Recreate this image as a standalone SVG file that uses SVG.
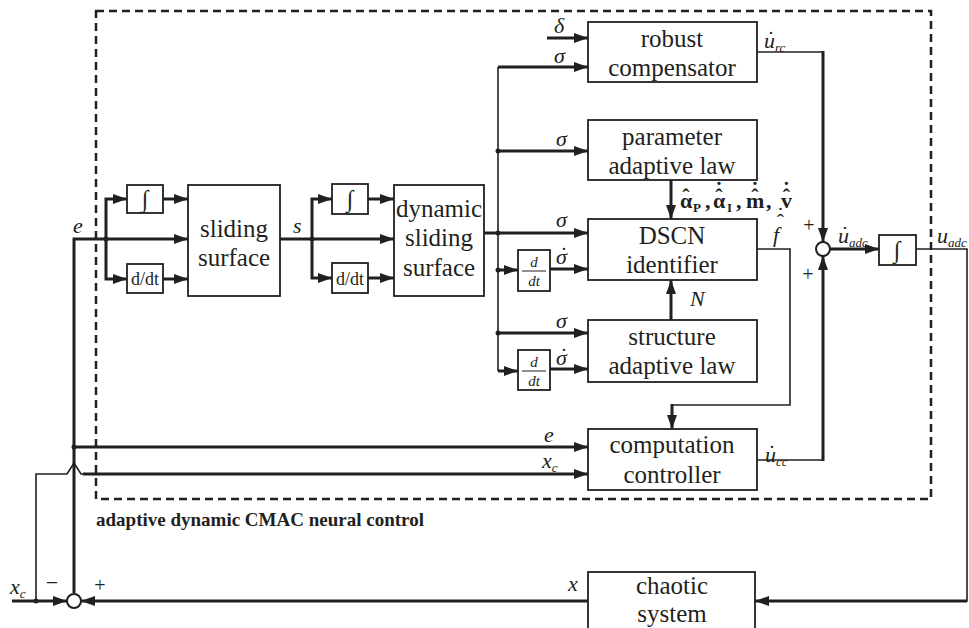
<svg xmlns="http://www.w3.org/2000/svg" width="969" height="628" viewBox="0 0 969 628" font-family="Liberation Serif, Times New Roman, serif">
<style>
text{font-family:"Liberation Serif","Times New Roman",serif;fill:#231f20}
.box{fill:#fff;stroke:#231f20;stroke-width:1.8}
.thk{fill:none;stroke:#231f20;stroke-width:3}
.thn{fill:none;stroke:#231f20;stroke-width:1.6}
.t{font-size:25px;text-anchor:middle}
.lb{font-size:22px;font-style:italic}
.up{font-style:normal}
.sub{font-size:13px}
.op{font-size:20px;text-anchor:middle}
.bd{font-size:22px;font-weight:bold}
.pm{font-size:20px;text-anchor:middle}
.dot{fill:#231f20}
</style>
<defs>
<marker id="a" markerWidth="14" markerHeight="10" refX="14" refY="5" orient="auto" markerUnits="userSpaceOnUse">
<path d="M0,0 L14,5 L0,10 z" fill="#231f20"/>
</marker>
</defs>
<rect width="969" height="628" fill="#fff"/>

<rect x="96" y="11" width="835" height="488" fill="none" stroke="#231f20" stroke-width="2.5" stroke-dasharray="8,5"/>
<text x="96" y="526" style="font-size:19px;font-weight:bold">adaptive dynamic CMAC neural control</text>

<g id="connectors">
<polyline class="thk" points="74,593 74,239 188,239" marker-end="url(#a)"/>
<polyline class="thk" points="106,239 106,199 127,199" marker-end="url(#a)"/>
<polyline class="thk" points="106,239 106,279 127,279" marker-end="url(#a)"/>
<line class="thk" x1="163" y1="199" x2="188" y2="199" marker-end="url(#a)"/>
<line class="thk" x1="163" y1="279" x2="188" y2="279" marker-end="url(#a)"/>
<line class="thk" x1="280" y1="239" x2="394" y2="239" marker-end="url(#a)"/>
<polyline class="thk" points="312,239 312,199 332,199" marker-end="url(#a)"/>
<polyline class="thk" points="312,239 312,278 332,278" marker-end="url(#a)"/>
<line class="thk" x1="368" y1="199" x2="394" y2="199" marker-end="url(#a)"/>
<line class="thk" x1="368" y1="278" x2="394" y2="278" marker-end="url(#a)"/>
<line class="thk" x1="484" y1="233" x2="588" y2="233" marker-end="url(#a)"/>
<polyline class="thn" points="498,67 498,371"/>
<line class="thk" x1="498" y1="67" x2="588" y2="67" marker-end="url(#a)"/>
<line class="thk" x1="547" y1="38" x2="588" y2="38" marker-end="url(#a)"/>
<line class="thk" x1="498" y1="151" x2="588" y2="151" marker-end="url(#a)"/>
<line class="thk" x1="498" y1="270" x2="518" y2="270" marker-end="url(#a)"/>
<line class="thk" x1="550" y1="269" x2="588" y2="269" marker-end="url(#a)"/>
<line class="thk" x1="498" y1="333" x2="588" y2="333" marker-end="url(#a)"/>
<line class="thk" x1="498" y1="371" x2="518" y2="371" marker-end="url(#a)"/>
<line class="thk" x1="550" y1="369" x2="588" y2="369" marker-end="url(#a)"/>
<line class="thk" x1="671" y1="180" x2="671" y2="219" marker-end="url(#a)"/>
<line class="thk" x1="671" y1="320" x2="671" y2="280" marker-end="url(#a)"/>
<polyline class="thn" points="757,249 790,249 790,405 672,405"/>
<line class="thk" x1="672" y1="404" x2="672" y2="429" marker-end="url(#a)"/>
<polyline class="thn" points="757,52 823,52"/>
<line class="thk" x1="823" y1="51" x2="823" y2="242" marker-end="url(#a)"/>
<polyline class="thn" points="757,460 824,460"/>
<line class="thk" x1="823" y1="461" x2="823" y2="256" marker-end="url(#a)"/>
<line class="thk" x1="830" y1="249" x2="879" y2="249" marker-end="url(#a)"/>
<polyline class="thn" points="916,249 967,249 967,601 900,601"/>
<line class="thk" x1="967" y1="601" x2="755" y2="601" marker-end="url(#a)"/>
<line class="thk" x1="588" y1="601" x2="81" y2="601" marker-end="url(#a)"/>
<line class="thk" x1="12" y1="601" x2="67" y2="601" marker-end="url(#a)"/>
<polyline class="thn" points="36,601 36,474 67,474 74,463 81,474 84,474"/>
<line class="thk" x1="83" y1="474" x2="588" y2="474" marker-end="url(#a)"/>
<line class="thk" x1="74" y1="447" x2="588" y2="447" marker-end="url(#a)"/>
<circle class="dot" cx="106" cy="239" r="2.5"/>
<circle class="dot" cx="312" cy="239" r="2.5"/>
<circle class="dot" cx="498" cy="233" r="2.5"/>
<circle class="dot" cx="498" cy="151" r="2.5"/>
<circle class="dot" cx="498" cy="270" r="2.5"/>
<circle class="dot" cx="498" cy="333" r="2.5"/>
<circle class="dot" cx="74" cy="447" r="2.5"/>
<circle class="dot" cx="36" cy="601" r="2.5"/>
</g>

<g id="int1"><rect class="box" x="127" y="185" width="36" height="28"/><text class="op" x="145" y="207" style="font-size:24px">∫</text></g>
<g id="ddt1"><rect class="box" x="127" y="264" width="36" height="29"/><text class="op" x="145" y="285" style="font-size:18px">d/dt</text></g>
<g id="sliding"><rect class="box" x="188" y="185" width="92" height="111"/><text class="t" x="234" y="237">sliding</text><text class="t" x="234" y="266">surface</text></g>
<g id="int2"><rect class="box" x="332" y="184" width="36" height="30"/><text class="op" x="350" y="207" style="font-size:24px">∫</text></g>
<g id="ddt2"><rect class="box" x="332" y="263" width="36" height="30"/><text class="op" x="350" y="285" style="font-size:18px">d/dt</text></g>
<g id="dynamic"><rect class="box" x="394" y="185" width="90" height="111"/><text class="t" x="439" y="217">dynamic</text><text class="t" x="439" y="246">sliding</text><text class="t" x="439" y="276">surface</text></g>
<g id="robust"><rect class="box" x="588" y="22" width="169" height="60"/><text class="t" x="672" y="47">robust</text><text class="t" x="672" y="76">compensator</text></g>
<g id="param"><rect class="box" x="588" y="120" width="169" height="60"/><text class="t" x="672" y="145">parameter</text><text class="t" x="672" y="174">adaptive law</text></g>
<g id="dscn"><rect class="box" x="588" y="219" width="169" height="61"/><text class="t" x="672" y="244">DSCN</text><text class="t" x="672" y="273">identifier</text></g>
<g id="ddt3"><rect class="box" x="518" y="250" width="32" height="41"/><text class="lb" x="534" y="267" style="font-size:15px;text-anchor:middle">d</text><line x1="522" y1="271" x2="546" y2="271" stroke="#231f20" stroke-width="1"/><text class="lb" x="534" y="286" style="font-size:15px;text-anchor:middle">dt</text></g>
<g id="structure"><rect class="box" x="588" y="320" width="169" height="62"/><text class="t" x="672" y="345">structure</text><text class="t" x="672" y="374">adaptive law</text></g>
<g id="ddt4"><rect class="box" x="518" y="350" width="32" height="40"/><text class="lb" x="534" y="367" style="font-size:15px;text-anchor:middle">d</text><line x1="522" y1="371" x2="546" y2="371" stroke="#231f20" stroke-width="1"/><text class="lb" x="534" y="386" style="font-size:15px;text-anchor:middle">dt</text></g>
<g id="computation"><rect class="box" x="588" y="429" width="169" height="61"/><text class="t" x="672" y="453">computation</text><text class="t" x="672" y="483">controller</text></g>
<g id="int3"><rect class="box" x="879" y="235" width="37" height="30"/><text class="op" x="897" y="258" style="font-size:24px">∫</text></g>
<g id="sum1"><circle cx="823" cy="249" r="7" fill="#fff" stroke="#231f20" stroke-width="2"/></g>
<g id="sum2"><circle cx="74" cy="601" r="7" fill="#fff" stroke="#231f20" stroke-width="2"/></g>
<g id="chaotic"><rect class="box" x="588" y="572" width="167" height="70"/><text class="t" x="672" y="594">chaotic</text><text class="t" x="672" y="622">system</text></g>

<g id="labels">
<text class="lb" x="73" y="233">e</text>
<text class="lb" x="293" y="233">s</text>
<text class="lb" x="554" y="33">δ</text>
<text class="lb" x="554" y="63">σ</text>
<text class="lb" x="556" y="146">σ</text>
<text class="lb" x="556" y="227">σ</text>
<text class="lb" x="556" y="264">σ<tspan class="up" x="560.3" y="262">˙</tspan></text>
<text class="lb" x="556" y="328">σ</text>
<text class="lb" x="556" y="365">σ<tspan class="up" x="560.3" y="363">˙</tspan></text>
<text class="lb" x="690" y="306">N</text>
<text class="lb" x="773" y="242">f<tspan class="up" x="776.8" y="229">ˆ</tspan><tspan class="up" x="776.8" y="222">˙</tspan></text>
<text class="bd" x="680" y="208">α<tspan x="682.3" y="204">ˆ</tspan><tspan class="sub" x="693" y="212">P</tspan><tspan x="705" y="208">,</tspan><tspan x="713" y="208">α</tspan><tspan x="715.3" y="204">ˆ</tspan><tspan x="715.3" y="197">˙</tspan><tspan class="sub" x="727" y="212">I</tspan><tspan x="736" y="208">,</tspan><tspan x="746" y="208">m</tspan><tspan x="751.3" y="204">ˆ</tspan><tspan x="751.3" y="197">˙</tspan><tspan x="766" y="208">,</tspan><tspan x="781" y="208">v</tspan><tspan x="782.8" y="204">ˆ</tspan><tspan x="782.8" y="197">˙</tspan></text>
<text class="lb" x="764" y="48">u<tspan class="sub" dy="4">rc</tspan><tspan class="up" x="767.3" y="46">˙</tspan></text>
<text class="lb" x="765" y="462">u<tspan class="sub" dy="4">cc</tspan><tspan class="up" x="768.3" y="460">˙</tspan></text>
<text class="lb" x="838" y="243">u<tspan class="sub" dy="4">adc</tspan><tspan class="up" x="841.3" y="241">˙</tspan></text>
<text class="lb" x="937" y="243">u<tspan class="sub" dy="4">adc</tspan></text>
<text class="lb" x="544" y="442">e</text>
<text class="lb" x="542" y="468">x<tspan class="sub" dy="4">c</tspan></text>
<text class="lb" x="568" y="591">x</text>
<text class="lb" x="10" y="594">x<tspan class="sub" dy="4">c</tspan></text>
<text class="pm" x="52" y="590" style="font-size:22px">−</text>
<text class="pm" x="100" y="592">+</text>
<text class="pm" x="809" y="232">+</text>
<text class="pm" x="808" y="281">+</text>
</g>
</svg>
